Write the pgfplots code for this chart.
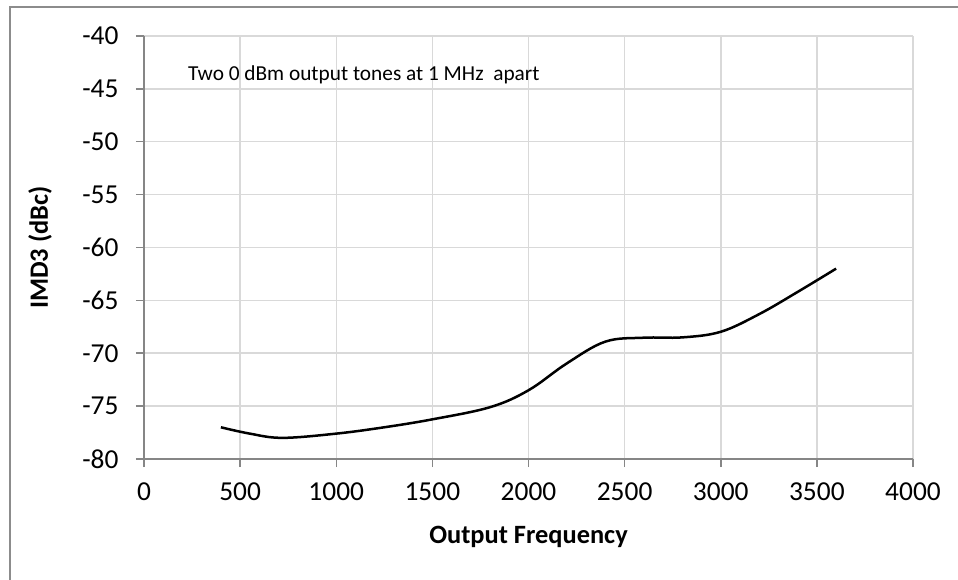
\documentclass[border=0pt]{standalone}
\usepackage{fontspec}
\setmainfont{Carlito}
\usepackage{pgfplots}
\pgfplotsset{compat=1.18}
\definecolor{axgray}{HTML}{868686}
\definecolor{gridgray}{HTML}{D9D9D9}
\definecolor{framegray}{HTML}{8C8C8C}
\begin{document}
\begin{tikzpicture}
\path[use as bounding box] (0,0) rectangle (958bp,580bp);
\draw[framegray, line width=1.5bp] (10bp,0) -- (10bp,573bp) -- (958bp,573bp);
\begin{axis}[
  at={(144bp,121bp)}, anchor=south west,
  scale only axis, width=769bp, height=423bp,
  xmin=0, xmax=4000, ymin=-80, ymax=-40,
  xtick={0,500,...,4000}, ytick={-80,-75,...,-40},
  /pgf/number format/assume math mode=true,
  /pgf/number format/1000 sep={},
  axis x line*=bottom, axis y line*=left,
  axis line style={axgray, line width=1.5bp},
  tick style={axgray, line width=1.5bp},
  major tick length=8bp, tick align=outside,
  grid=major, major grid style={gridgray, line width=1.5bp},
  tick label style={font=\fontsize{27.5}{32}\selectfont, black},
  xticklabel style={yshift=-12bp},
  yticklabel style={xshift=-14bp},
  xlabel={\textbf{Output Frequency}},
  ylabel={\textbf{IMD3 (dBc)}},
  label style={font=\fontsize{26.5}{30}\selectfont},
  xlabel style={at={(axis description cs:0.5,-0.1844)}, anchor=center},
  ylabel style={at={(axis description cs:-0.1352,0.5)}, anchor=center},
  clip=false,
]
\addplot[black, line width=2.5bp, smooth, tension=0.6] coordinates {
(400,-77.0) (550,-77.6) (720,-78.0) (1000,-77.6)
(1250,-77.0) (1500,-76.25) (1800,-75.1) (2000,-73.5) (2200,-70.95)
(2400,-68.9) (2600,-68.53) (2800,-68.5) (3000,-67.97)
(3200,-66.3) (3400,-64.2) (3600,-62.0)
};
\node[anchor=west, font=\fontsize{21.4}{25}\selectfont, inner sep=0pt] at (axis cs:229,-43.7) {Two 0 dBm output tones at 1 MHz\ \ apart};
\end{axis}
\end{tikzpicture}
\end{document}
